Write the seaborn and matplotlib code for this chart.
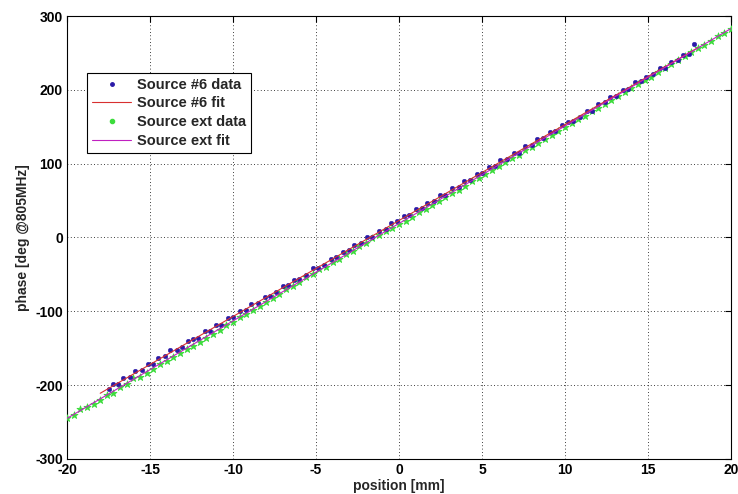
import matplotlib
matplotlib.use("Agg")
import matplotlib.pyplot as plt
import seaborn as sns
import pandas as pd
from matplotlib.lines import Line2D

# ---- data ----
src6_x = [-17.5, -17.2, -16.9, -16.6, -16.2, -15.9, -15.5, -15.1, -14.8, -14.5,
          -14.1, -13.8, -13.4, -13.1, -12.7, -12.4, -12.1, -11.7, -11.4, -11.0,
          -10.7, -10.3, -10.0, -9.6, -9.2, -8.9, -8.5, -8.1, -7.8, -7.4,
          -7.0, -6.7, -6.3, -6.0, -5.6, -5.2, -4.9, -4.5, -4.1, -3.8,
          -3.4, -3.0, -2.7, -2.3, -1.9, -1.6, -1.2, -0.8, -0.5, -0.1,
          0.3, 0.6, 1.0, 1.4, 1.7, 2.1, 2.5, 2.8, 3.2, 3.6,
          3.9, 4.3, 4.7, 5.0, 5.4, 5.8, 6.1, 6.5, 6.9, 7.2,
          7.6, 8.0, 8.3, 8.7, 9.1, 9.4, 9.8, 10.2, 10.5, 10.9,
          11.3, 11.6, 12.0, 12.4, 12.7, 13.1, 13.5, 13.8, 14.2, 14.6,
          14.9, 15.3, 15.7, 16.0, 16.4, 16.8, 17.1, 17.5, 17.8]
src6_y = [-205, -199, -198, -190, -189, -181, -180, -171, -172, -163,
          -161, -153, -152, -149, -140, -137, -136, -127, -126, -118,
          -118, -109, -108, -99, -98, -90, -89, -80, -79, -74,
          -66, -65, -57, -56, -51, -42, -41, -37, -29, -27,
          -19, -17, -10, -8, 0, 1, 9, 11, 19, 22,
          29, 30, 38, 40, 47, 49, 57, 58, 67, 69,
          76, 78, 86, 87, 95, 97, 105, 106, 114, 115,
          124, 125, 133, 135, 143, 144, 153, 157, 158, 163,
          171, 172, 181, 183, 190, 192, 200, 201, 210, 212,
          218, 221, 229, 230, 238, 240, 247, 249, 262]

ext_x = [-20.0, -19.6, -19.2, -18.8, -18.4, -18.0, -17.6, -17.2, -16.8, -16.4,
         -16.0, -15.6, -15.2, -14.8, -14.4, -14.0, -13.6, -13.2, -12.8, -12.4,
         -12.0, -11.6, -11.2, -10.8, -10.4, -10.0, -9.6, -9.2, -8.8, -8.4,
         -8.0, -7.6, -7.2, -6.8, -6.4, -6.0, -5.6, -5.2, -4.8, -4.4,
         -4.0, -3.6, -3.2, -2.8, -2.4, -2.0, -1.6, -1.2, -0.8, -0.4,
         0.0, 0.4, 0.8, 1.2, 1.6, 2.0, 2.4, 2.8, 3.2, 3.6,
         4.0, 4.4, 4.8, 5.2, 5.6, 6.0, 6.4, 6.8, 7.2, 7.6,
         8.0, 8.4, 8.8, 9.2, 9.6, 10.0, 10.4, 10.8, 11.2, 11.6,
         12.0, 12.4, 12.8, 13.2, 13.6, 14.0, 14.4, 14.8, 15.2, 15.6,
         16.0, 16.4, 16.8, 17.2, 17.6, 18.0, 18.4, 18.8, 19.2, 19.6, 20.0]
ext_y = [-245, -241, -232, -230, -225, -220, -214, -210, -203, -199,
         -190, -189, -184, -178, -172, -167, -162, -157, -151, -147,
         -141, -136, -131, -125, -119, -114, -108, -104, -98, -93,
         -87, -82, -76, -70, -66, -60, -54, -50, -43, -40,
         -33, -29, -22, -18, -12, -8, -1, 3, 9, 13,
         18, 23, 28, 34, 39, 44, 49, 55, 60, 65,
         70, 76, 81, 86, 91, 97, 102, 107, 112, 118,
         123, 128, 134, 139, 144, 149, 155, 160, 165, 171,
         176, 181, 186, 192, 197, 202, 208, 213, 218, 224,
         229, 235, 240, 246, 251, 257, 261, 266, 273, 277, 283]

fit6_x = [-18.0, 18.0]
fit6_y = [-211.0, 257.0]
fitext_x = [-20.0, 20.0]
fitext_y = [-245.0, 283.0]

labels = ["Source #6 data", "Source #6 fit", "Source ext data", "Source ext fit"]
xticks = [-20, -15, -10, -5, 0, 5, 10, 15, 20]
yticks = [-300, -200, -100, 0, 100, 200, 300]

# ---- style ----
sns.set_style("white")
plt.rcParams['font.family'] = ['Liberation Sans', 'DejaVu Sans']
plt.rcParams['font.weight'] = 'bold'

blue = '#2a1aa8'
green = '#3cdc3c'
red = '#d83030'
magenta = '#c020c0'

fig = plt.figure(figsize=(7.38, 4.94), dpi=100)
ax = fig.add_axes([0.0908, 0.0709, 0.8997, 0.8967])

df6 = pd.DataFrame({'x': src6_x, 'y': src6_y})
dfe = pd.DataFrame({'x': ext_x, 'y': ext_y})
df6f = pd.DataFrame({'x': fit6_x, 'y': fit6_y})
dfef = pd.DataFrame({'x': fitext_x, 'y': fitext_y})

sns.scatterplot(data=dfe, x='x', y='y', ax=ax, marker='*', s=28, color=green,
                edgecolor=green, linewidth=0.6, zorder=3)
sns.scatterplot(data=df6, x='x', y='y', ax=ax, marker='o', s=11, color=blue,
                edgecolor=blue, linewidth=0.3, zorder=4)
sns.lineplot(data=df6f, x='x', y='y', ax=ax, color=red, linewidth=0.8, zorder=5)
sns.lineplot(data=dfef, x='x', y='y', ax=ax, color=magenta, linewidth=0.8, zorder=5)

ax.set_xlim(-20, 20)
ax.set_ylim(-300, 300)
ax.set_xticks(xticks)
ax.set_yticks(yticks)
ax.set_xticklabels([str(t) for t in xticks], fontsize=10, fontweight='bold')
ax.set_yticklabels([str(t) for t in yticks], fontsize=10, fontweight='bold')
ax.grid(True, color='black', linestyle=(0, (1, 3)), linewidth=0.6)
ax.tick_params(direction='in', length=4, width=0.8, top=True, right=True,
               pad=3, colors='black')
for sp in ax.spines.values():
    sp.set_visible(True)
    sp.set_color('black')
    sp.set_linewidth(0.8)

ax.set_xlabel('position [mm]', fontsize=10, fontweight='bold', labelpad=1)
ax.set_ylabel('phase [deg @805MHz]', fontsize=10, fontweight='bold', labelpad=4)

handles = [
    Line2D([], [], linestyle='none', marker='.', color=blue, markersize=5),
    Line2D([], [], color=red, linewidth=0.8),
    Line2D([], [], linestyle='none', marker='.', color=green, markersize=6),
    Line2D([], [], color=magenta, linewidth=0.8),
]
leg = ax.legend(handles, labels, loc='upper left', bbox_to_anchor=(0.030, 0.872),
                borderaxespad=0, frameon=True, fancybox=False, framealpha=1,
                edgecolor='black', handlelength=2.7, handletextpad=0.35,
                labelspacing=0.32, borderpad=0.35,
                prop={'weight': 'bold', 'size': 10.5})
leg.get_frame().set_linewidth(0.8)

fig.savefig('out.png', dpi=100, facecolor='white')
